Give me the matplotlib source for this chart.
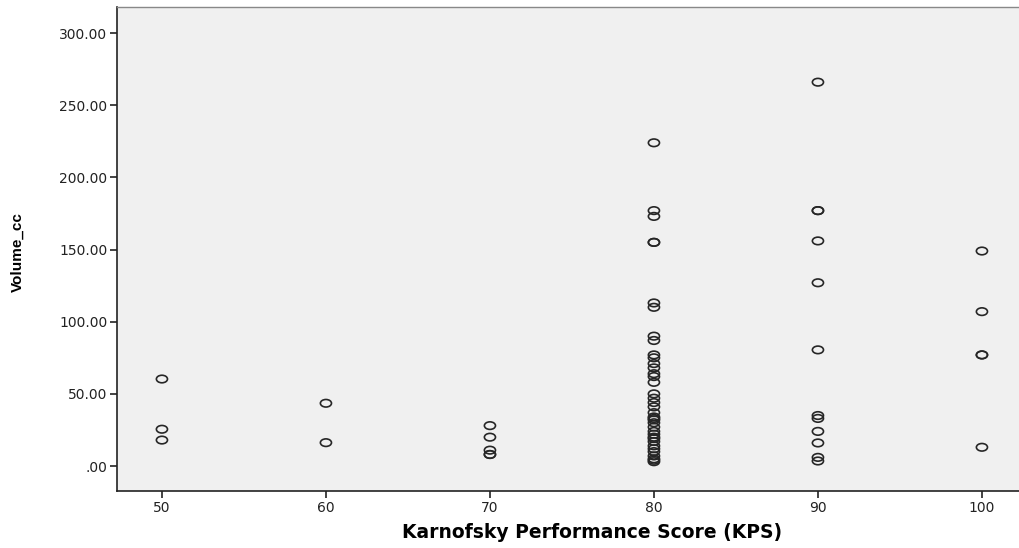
import matplotlib
matplotlib.use("Agg")
import matplotlib.pyplot as plt
from matplotlib.path import Path
from matplotlib.transforms import Affine2D
from matplotlib.ticker import FuncFormatter

kps_50 = [60.3, 25.5, 18.0]
kps_60 = [43.5, 16.2]
kps_70 = [28.0, 20.0, 11.0, 8.0, 8.0]
kps_80 = [224.0, 177.0, 173.0, 155.0, 155.0, 113.0, 110.0, 90.0, 87.0,
          77.0, 75.0, 71.0, 68.0, 64.0, 62.0, 58.0, 50.0, 47.0, 44.0, 41.0,
          37.0, 34.0, 33.0, 32.0, 30.0, 27.0, 24.0, 22.0, 20.0, 19.0, 17.0,
          14.0, 12.0, 10.0, 7.0, 5.0, 4.0, 3.0]
kps_90 = [266.0, 177.0, 177.0, 156.0, 127.0, 80.5, 35.0, 33.0, 24.0, 16.0, 6.0, 3.5]
kps_100 = [149.0, 107.0, 77.0, 77.0, 13.0]

groups = {50: kps_50, 60: kps_60, 70: kps_70, 80: kps_80, 90: kps_90, 100: kps_100}
x_ticks = [50, 60, 70, 80, 90, 100]
y_ticks = [0, 50, 100, 150, 200, 250, 300]

xs, ys = [], []
for k, vals in groups.items():
    xs += [k] * len(vals)
    ys += vals

ellipse = Path.unit_circle().transformed(Affine2D().scale(1.0, 0.68))

fig = plt.figure(figsize=(10.19, 5.48), dpi=100)
ax = fig.add_axes([117 / 1019, 1 - 491 / 548, 1 - 117 / 1019, (491 - 7) / 548])
ax.set_facecolor("#f0f0f0")
ax.scatter(xs, ys, marker=ellipse, s=8.0 ** 2, facecolors="none",
           edgecolors="#262626", linewidths=1.2, zorder=3)

ax.set_xlim(47.26, 102.26)
ax.set_ylim(-17.3, 318.1)
ax.set_xticks(x_ticks)
ax.set_yticks(y_ticks)

def yfmt(v, pos):
    s = f"{v:.2f}"
    if s.startswith("0"):
        s = s[1:]
    return s

ax.yaxis.set_major_formatter(FuncFormatter(yfmt))
font = ["DejaVu Sans"]
for lab in ax.get_xticklabels() + ax.get_yticklabels():
    lab.set_family(font)
    lab.set_fontsize(10)
    lab.set_color("#222222")
ax.tick_params(direction="out", length=5, width=1.2, color="#222222", pad=2)

for side in ["left", "bottom"]:
    ax.spines[side].set_linewidth(1.2)
    ax.spines[side].set_color("#222222")
ax.spines["top"].set_color("#888888")
ax.spines["top"].set_linewidth(1.0)
ax.spines["right"].set_visible(False)

fig.text(592 / 1019, 1 - 533 / 548, "Karnofsky Performance Score (KPS)", ha="center",
         va="center", family=font, fontsize=13.5, fontweight="bold")
fig.text(18 / 1019, 1 - 252 / 548, "Volume_cc", rotation=90, ha="center", va="center",
         family=["Liberation Sans Narrow", "Liberation Sans", "DejaVu Sans"],
         fontsize=11, fontweight="bold")

fig.savefig("out.png", dpi=100)
